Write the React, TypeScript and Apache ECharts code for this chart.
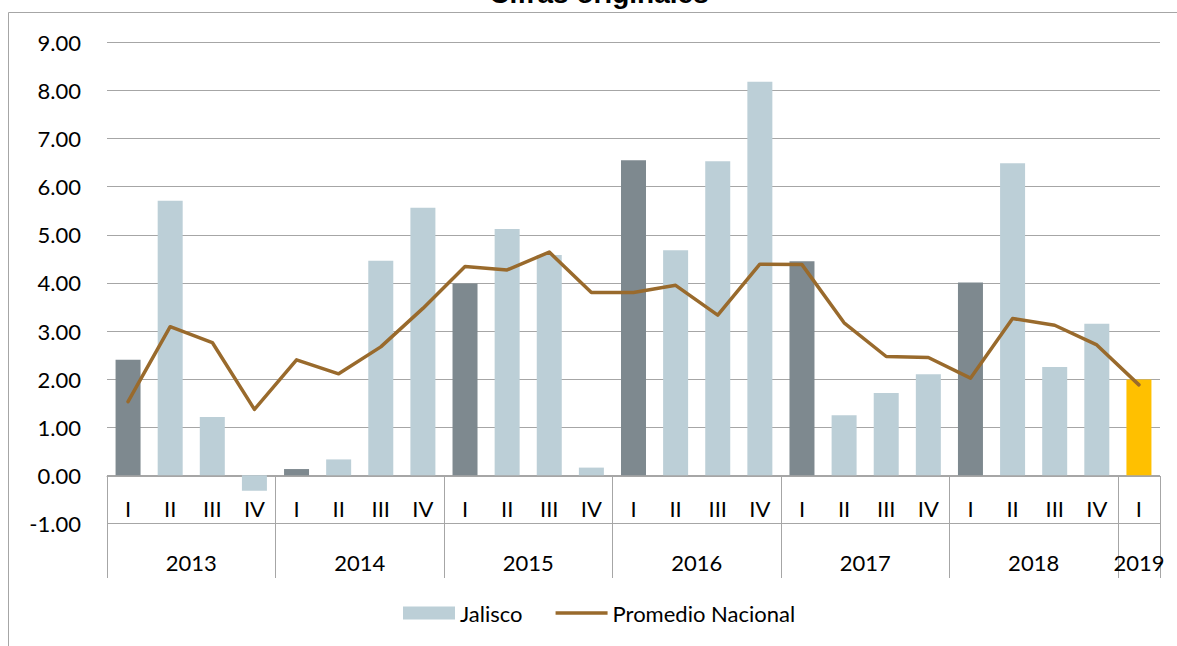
import React, { useEffect, useRef } from "react";
import * as echarts from "echarts";

const titleText = "Cifras originales";
const quarterLabels = [
  "I", "II", "III", "IV",
  "I", "II", "III", "IV",
  "I", "II", "III", "IV",
  "I", "II", "III", "IV",
  "I", "II", "III", "IV",
  "I", "II", "III", "IV",
  "I",
];
const years = ["2013", "2014", "2015", "2016", "2017", "2018", "2019"];
const quartersPerYear = [4, 4, 4, 4, 4, 4, 1];
const jalisco = [
  2.4, 5.71, 1.21, -0.32,
  0.13, 0.33, 4.46, 5.56,
  3.99, 5.12, 4.58, 0.16,
  6.55, 4.68, 6.53, 8.18,
  4.45, 1.25, 1.71, 2.1,
  4.01, 6.49, 2.25, 3.15,
  1.99,
];
const promedio = [
  1.53, 3.09, 2.76, 1.37,
  2.4, 2.11, 2.67, 3.47,
  4.34, 4.27, 4.64, 3.8,
  3.8, 3.95, 3.33, 4.39,
  4.38, 3.17, 2.47, 2.45,
  2.02, 3.26, 3.12, 2.71,
  1.88,
];
const seriesNames = ["Jalisco", "Promedio Nacional"];

const LIGHT = "#bccfd7";
const DARK = "#7e898f";
const YELLOW = "#ffc000";
const LINE = "#996a2c";
const GRIDC = "#a6a6a6";
const FONT = "Lato";

export default function App() {
  const ref = useRef<HTMLDivElement>(null);
  useEffect(() => {
    if (!ref.current) return;
    const chart = echarts.init(ref.current, null, { renderer: "svg" });

    // Year axis at half-quarter resolution
    const nPoints = quarterLabels.length * 2 + 1;
    const yearAxisData: string[] = new Array(nPoints).fill("");
    const boundaries = new Set<number>();
    let start = 0;
    years.forEach((y, i) => {
      boundaries.add(start * 2);
      yearAxisData[start * 2 + quartersPerYear[i]] = y;
      start += quartersPerYear[i];
    });
    boundaries.add(start * 2);
    const yearAxisCats = yearAxisData.map((s, i) => ({ value: s === "" ? " ".repeat(i + 1) : s }));

    const lastIdx = quarterLabels.length - 1;
    const axisOffset = -47.4;

    chart.setOption({
      animation: false,
      backgroundColor: "#ffffff",
      grid: { left: 107, right: 17, top: 42.4, bottom: 122.6, containLabel: false },
      graphic: [
        {
          type: "rect",
          shape: { x: 8.5, y: 12.5, width: 1200, height: 700 },
          style: { fill: "none", stroke: GRIDC, lineWidth: 1 },
          silent: true,
          z: -1,
        },
        {
          type: "text",
          x: 599,
          y: -7,
          style: {
            text: titleText,
            fontFamily: "Liberation Sans",
            fontWeight: "bold",
            fontSize: 28,
            fill: "#000",
            align: "center",
            verticalAlign: "middle",
          },
        },
      ],
      legend: {
        left: 403,
        top: 600,
        padding: 0,
        itemWidth: 52,
        itemHeight: 13,
        itemGap: 33,
        textStyle: { fontFamily: FONT, fontSize: 22, color: "#000", lineHeight: 26, padding: [0, 0, 0, 0] },
        data: [
          { name: seriesNames[0], icon: "rect", itemStyle: { color: LIGHT } },
          { name: seriesNames[1], icon: "path://M0,0H52V3.5H0Z", itemStyle: { color: LINE } },
        ],
      },
      xAxis: [
        {
          type: "category",
          data: quarterLabels,
          position: "bottom",
          offset: axisOffset,
          axisLine: { onZero: false, lineStyle: { color: GRIDC, width: 1 } },
          axisTick: { show: false },
          axisLabel: { interval: 0, margin: 21, fontFamily: FONT, fontSize: 22, color: "#000" },
          splitLine: { show: false },
        },
        {
          type: "category",
          data: yearAxisCats,
          boundaryGap: false,
          position: "bottom",
          offset: axisOffset,
          axisLine: { show: false, onZero: false },
          axisTick: {
            show: true,
            length: 102,
            interval: (index: number) => boundaries.has(index),
            lineStyle: { color: GRIDC, width: 1 },
          },
          axisLabel: {
            interval: 0,
            margin: 75,
            fontFamily: FONT,
            fontSize: 22,
            color: "#000",
            formatter: (v: string) => v.trim(),
          },
          splitLine: { show: false },
        },
      ],
      yAxis: {
        type: "value",
        min: -1,
        max: 9,
        interval: 1,
        axisLine: { show: false },
        axisTick: { show: false },
        axisLabel: {
          margin: 26,
          fontFamily: FONT,
          fontSize: 22,
          color: "#000",
          formatter: (v: number) => v.toFixed(2),
        },
        splitLine: { show: true, lineStyle: { color: GRIDC, width: 1 } },
      },
      series: [
        {
          name: seriesNames[0],
          type: "bar",
          xAxisIndex: 0,
          data: jalisco,
          barWidth: 25,
          itemStyle: {
            color: (p: any) => (p.dataIndex === lastIdx ? YELLOW : p.dataIndex % 4 === 0 ? DARK : LIGHT),
          },
        },
        {
          name: seriesNames[1],
          type: "line",
          xAxisIndex: 0,
          data: promedio,
          symbol: "none",
          showSymbol: false,
          lineStyle: { color: LINE, width: 3.5, join: "round", cap: "round" },
          itemStyle: { color: LINE },
          z: 3,
        },
      ],
    });
    return () => chart.dispose();
  }, []);
  return (
    <div
      ref={ref}
      style={{ position: "fixed", left: 0, top: 0, width: 1177, height: 646, background: "#fff" }}
    />
  );
}
